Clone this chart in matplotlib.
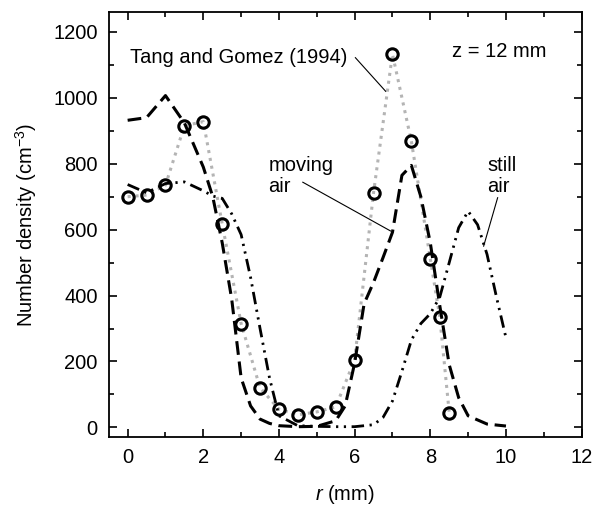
import matplotlib
matplotlib.use("Agg")
import matplotlib.pyplot as plt
from matplotlib.ticker import MultipleLocator

plt.rcParams['font.family'] = ['Liberation Sans', 'DejaVu Sans']
plt.rcParams['mathtext.fontset'] = 'custom'
plt.rcParams['mathtext.rm'] = 'Liberation Sans'
plt.rcParams['mathtext.it'] = 'Liberation Sans:italic'

# Tang and Gomez (1994) measurements
tg_r = [0, 0.5, 1, 1.5, 2, 2.5, 3, 3.5, 4, 4.5, 5, 5.5, 6, 6.5, 7, 7.5, 8, 8.25, 8.5]
tg_n = [700, 705, 735, 915, 928, 617, 315, 120, 55, 38, 47, 62, 205, 712, 1133, 868, 512, 335, 45]

# moving air (dashed)
mov_r = [0, 0.5, 1, 1.5, 2, 2.25, 2.5, 2.75, 3, 3.25, 3.5, 3.75, 4, 4.5, 5, 5.5, 5.75,
         6, 6.25, 6.5, 6.75, 7, 7.25, 7.5, 7.75, 8, 8.25, 8.5, 8.75, 9, 9.5, 10]
mov_n = [932, 940, 1007, 924, 790, 700, 560, 390, 150, 65, 25, 12, 5, 2, 3, 20, 65,
         195, 375, 440, 515, 592, 765, 795, 700, 560, 370, 190, 90, 35, 10, 4]

# still air (dash-dot-dot)
still_r = [0, 0.5, 1, 1.5, 2, 2.25, 2.5, 2.75, 3, 3.25, 3.5, 3.75, 4, 4.5, 5, 5.5, 6,
           6.5, 6.75, 7, 7.25, 7.5, 7.75, 8, 8.25, 8.5, 8.75, 9, 9.25, 9.5, 9.75, 10]
still_n = [737, 712, 740, 745, 718, 702, 695, 648, 585, 455, 300, 150, 35, 5, 3, 2, 2,
           8, 30, 80, 170, 265, 315, 345, 395, 500, 606, 656, 615, 525, 395, 272]

FS = 14.5

fig = plt.figure(figsize=(5.99, 5.09), dpi=100)
ax = fig.add_axes([0.1815, 0.141, 0.7895, 0.835])

ax.plot(tg_r, tg_n, linestyle=(0, (1, 1.6)), color='#b4b4b4', lw=2.2, zorder=2)
ax.plot(mov_r, mov_n, linestyle='-', dashes=(4.5, 2.2), color='black', lw=2.2, zorder=3)
ax.plot(still_r, still_n, linestyle='-', dashes=(4.5, 2, 0.8, 2, 0.8, 2), color='black', lw=2.0, zorder=3)
ax.plot(tg_r, tg_n, linestyle='none', marker='o', ms=8.2, mfc='none', mec='black', mew=2.2, zorder=4)

ax.set_xlim(-0.5, 12)
ax.set_ylim(-30, 1260)
ax.xaxis.set_major_locator(MultipleLocator(2))
ax.xaxis.set_minor_locator(MultipleLocator(1))
ax.yaxis.set_major_locator(MultipleLocator(200))
ax.yaxis.set_minor_locator(MultipleLocator(100))
ax.tick_params(which='both', direction='in', top=True, right=True, labelsize=FS, width=1.2,
               labeltop=False, labelright=False)
ax.tick_params(which='major', length=6, pad=8)
ax.tick_params(which='minor', length=3.5)
for s in ax.spines.values():
    s.set_linewidth(1.3)

ax.set_xlabel('$\\mathit{r}$ (mm)', fontsize=FS, labelpad=11)
ax.set_ylabel('Number density (cm$^{-3}$)', fontsize=FS, labelpad=10)

ax.text(0.07, 1122, 'Tang and Gomez (1994)', fontsize=FS, va='center', ha='left')
ax.plot([6.02, 6.82], [1122, 1020], color='black', lw=0.8)
ax.text(8.58, 1141, 'z = 12 mm', fontsize=FS, va='center', ha='left')

ax.text(3.72, 763, 'moving\nair', fontsize=FS, va='center', ha='left', linespacing=1.1)
ax.plot([4.63, 6.95], [744, 596], color='black', lw=0.8)
ax.text(9.51, 763, 'still\nair', fontsize=FS, va='center', ha='left', linespacing=1.1)
ax.plot([9.78, 9.41], [697, 550], color='black', lw=0.8)

fig.savefig('out.png', dpi=100)
